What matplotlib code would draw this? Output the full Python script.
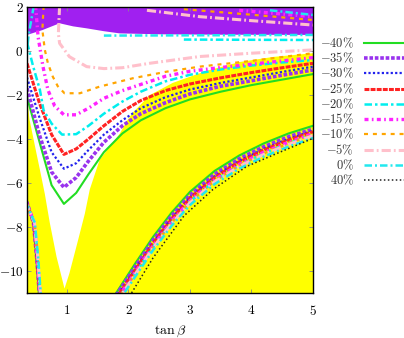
import matplotlib
matplotlib.use("Agg")
import matplotlib.pyplot as plt

plt.rcParams['mathtext.fontset'] = 'cm'
plt.rcParams['font.family'] = 'DejaVu Serif'

# ---- allowed regions ----
white_x = [0.35, 0.35, 0.39, 0.5, 0.56, 0.64, 0.72, 0.83, 0.96, 1.04, 1.18, 1.29,
           1.37, 1.53, 1.86, 1.97, 2.07, 2.35, 2.72, 3.27, 3.81, 4.35, 5.0, 5.0]
white_y = [2.0, -2.0, -3.1, -4.6, -5.4, -6.5, -7.8, -9.35, -10.8, -10.1, -8.6, -7.4,
           -6.3, -4.95, -3.75, -3.2, -2.8, -2.0, -1.45, -0.9, -0.5, -0.27, -0.1, 2.0]

purple_x = [0.35, 0.6, 0.88, 1.1, 1.32, 1.6, 1.86, 2.5, 3.5, 5.0]
purple_y = [0.73, 0.95, 1.26, 1.12, 1.03, 0.9, 0.8, 0.76, 0.74, 0.73]

# ---- upper branches ----
xv = [0.35, 0.55, 0.75, 0.95, 1.15, 1.35, 1.6, 1.9, 2.2, 2.6, 3.0, 3.5, 4.0, 4.5, 5.0]
m40_up = [-2.1, -4.1, -6.1, -6.95, -6.45, -5.6, -4.6, -3.75, -3.15, -2.6, -2.2, -1.85, -1.55, -1.3, -1.05]
m35_up = [-1.7, -3.8, -5.5, -6.2, -5.75, -5.0, -4.15, -3.4, -2.85, -2.35, -1.95, -1.6, -1.35, -1.1, -0.86]
m30_up = [-1.2, -3.0, -4.6, -5.35, -5.1, -4.5, -3.8, -3.15, -2.6, -2.1, -1.75, -1.45, -1.2, -0.95, -0.71]
m25_up = [-0.56, -2.35, -3.8, -4.7, -4.45, -4.0, -3.4, -2.75, -2.25, -1.8, -1.5, -1.22, -0.98, -0.76, -0.56]

m20_up_x = [0.35, 0.45, 0.56, 0.62, 0.75, 0.92, 1.15, 1.35, 1.6, 1.9, 2.2, 2.6, 3.0, 3.5, 4.0, 4.5, 5.0]
m20_up_y = [0.4, -0.7, -1.77, -2.7, -3.3, -3.8, -3.78, -3.4, -2.85, -2.3, -1.85, -1.38, -1.08, -0.84, -0.66, -0.52, -0.41]
m15_up_x = [0.49, 0.53, 0.61, 0.69, 0.8, 0.95, 1.15, 1.35, 1.6, 1.9, 2.2, 2.6, 3.0, 3.5, 4.0, 4.5, 5.0]
m15_up_y = [2.05, 0.65, -0.71, -1.77, -2.5, -2.9, -2.9, -2.6, -2.15, -1.8, -1.52, -1.15, -0.92, -0.75, -0.6, -0.45, -0.3]
m10_up_x = [0.62, 0.6, 0.64, 0.69, 0.77, 0.85, 0.96, 1.21, 1.53, 2.07, 2.62, 3.16, 4.0, 5.0]
m10_up_y = [2.05, 0.95, 0.05, -0.56, -1.17, -1.6, -1.92, -1.92, -1.62, -1.24, -0.94, -0.71, -0.45, -0.1]
m5_up_x = [0.88, 0.86, 0.88, 1.04, 1.32, 1.6, 1.9, 2.34, 3.16, 4.0, 5.0]
m5_up_y = [2.05, 0.8, 0.35, -0.26, -0.71, -0.8, -0.76, -0.56, -0.25, -0.1, 0.05]
p0_up_x = [0.46, 0.42, 0.38, 0.36]
p0_up_y = [2.05, 1.41, 0.8, 0.3]

# branches along / inside the purple band
p0_mid_x, p0_mid_y = [1.6, 5.0], [0.7, 0.73]
m20_mid_x, m20_mid_y = [2.9, 5.0], [0.52, 0.5]
m5_top_x, m5_top_y = [2.3, 3.16, 4.0, 5.0], [1.85, 1.56, 1.38, 1.18]
m10_top_x, m10_top_y = [2.9, 4.0, 5.0], [1.9, 1.65, 1.41]
m15_top_x, m15_top_y = [3.8, 5.0], [1.85, 1.56]
p0_top_x, p0_top_y = [4.3, 5.0], [1.85, 1.64]

# ---- lower right branches ----
xl = [1.8, 2.1, 2.4, 2.7, 3.0, 3.4, 3.8, 4.2, 4.6, 5.0]
m40_lo = [-11.0, -9.7, -8.45, -7.35, -6.4, -5.45, -4.75, -4.2, -3.75, -3.4]
m35_lo = [-11.1, -9.85, -8.6, -7.5, -6.55, -5.6, -4.9, -4.35, -3.9, -3.55]
m30_lo = [-11.2, -9.95, -8.7, -7.6, -6.65, -5.7, -5.0, -4.45, -4.0, -3.62]
m25_lo = [-11.25, -10.0, -8.75, -7.65, -6.7, -5.75, -5.05, -4.5, -4.05, -3.67]
m20_lo = [-11.4, -10.15, -8.9, -7.8, -6.85, -5.9, -5.2, -4.65, -4.2, -3.8]
m15_lo = [-11.35, -10.1, -8.85, -7.75, -6.8, -5.85, -5.15, -4.6, -4.15, -3.75]
m10_lo = [-11.4, -10.15, -8.9, -7.8, -6.85, -5.9, -5.2, -4.65, -4.2, -3.8]
m5_lo = [-11.45, -10.2, -8.95, -7.85, -6.9, -5.95, -5.25, -4.7, -4.25, -3.85]
p0_lo = [-11.55, -10.3, -9.05, -7.95, -7.0, -6.05, -5.35, -4.8, -4.35, -3.95]
p40_x = [2.05, 2.4, 2.9, 3.37, 3.92, 4.46, 5.0]
p40_y = [-11.0, -9.4, -7.5, -6.3, -5.25, -4.6, -3.97]

# ---- lower left branches ----
yll = [-6.85, -7.8, -9.35, -10.5, -11.1]
m40_ll = [0.35, 0.45, 0.50, 0.53, 0.545]
m35_ll = [0.345, 0.455, 0.507, 0.537, 0.552]
m30_ll = [0.34, 0.46, 0.51, 0.54, 0.555]
m25_ll = [0.335, 0.462, 0.513, 0.543, 0.558]
m20_ll = [0.33, 0.468, 0.52, 0.55, 0.565]
m15_ll = [0.333, 0.465, 0.517, 0.547, 0.562]
m10_ll = [0.33, 0.468, 0.52, 0.55, 0.565]
m5_ll = [0.325, 0.472, 0.524, 0.554, 0.569]
p0_ll = [0.32, 0.477, 0.53, 0.56, 0.575]

labels = ['$-40\\%$', '$-35\\%$', '$-30\\%$', '$-25\\%$', '$-20\\%$',
          '$-15\\%$', '$-10\\%$', '$-5\\%$', '$0\\%$', '$40\\%$']

styles = {
    'm40': dict(color='#22dd22', lw=1.5, ls='-'),
    'm35': dict(color='#9933ee', lw=2.6, ls=(0, (1.0, 0.5))),
    'm30': dict(color='#2222ee', lw=1.6, ls=(0, (1, 1))),
    'm25': dict(color='#ff2222', lw=2.2, ls=(0, (1.6, 0.4))),
    'm20': dict(color='#00eeee', lw=1.8, ls=(0, (3, 1.2, 1, 1.2))),
    'm15': dict(color='#ff22ff', lw=2.4, ls=(0, (1.2, 1, 0.5, 1))),
    'm10': dict(color='#ffa500', lw=1.6, ls=(0, (1.8, 2.2))),
    'm5': dict(color='#ffc0cb', lw=2.2, ls=(0, (3, 1, 0.6, 1))),
    'p0': dict(color='#22e8ee', lw=1.8, ls=(0, (3, 1.2, 0.8, 1.2))),
    'p40': dict(color='#222222', lw=1.1, ls=(0, (1, 1.6))),
}

fig = plt.figure(figsize=(4.04, 3.38), dpi=100)
ax = fig.add_axes([27 / 404, 45 / 338, 286 / 404, 286 / 338])
ax.set_facecolor('#ffff00')
ax.fill(white_x, white_y, color='white', lw=0, zorder=1)
ax.fill(purple_x + [5.0, 0.35], purple_y + [2.0, 2.0], color='#a020f0', lw=0, zorder=1.5)

series = [
    ('m40', [(xv, m40_up), (xl, m40_lo), (m40_ll, yll)]),
    ('m35', [(xv, m35_up), (xl, m35_lo), (m35_ll, yll)]),
    ('m30', [(xv, m30_up), (xl, m30_lo), (m30_ll, yll)]),
    ('m25', [(xv, m25_up), (xl, m25_lo), (m25_ll, yll)]),
    ('m20', [(m20_up_x, m20_up_y), (m20_mid_x, m20_mid_y), (xl, m20_lo), (m20_ll, yll)]),
    ('m15', [(m15_up_x, m15_up_y), (m15_top_x, m15_top_y), (xl, m15_lo), (m15_ll, yll)]),
    ('m10', [(m10_up_x, m10_up_y), (m10_top_x, m10_top_y), (xl, m10_lo), (m10_ll, yll)]),
    ('m5', [(m5_up_x, m5_up_y), (m5_top_x, m5_top_y), (xl, m5_lo), (m5_ll, yll)]),
    ('p0', [(p0_up_x, p0_up_y), (p0_mid_x, p0_mid_y), (p0_top_x, p0_top_y), (xl, p0_lo), (p0_ll, yll)]),
    ('p40', [(p40_x, p40_y)]),
]

handles = []
for (key, parts), lab in zip(series, labels):
    for i, (px, py) in enumerate(parts):
        ln, = ax.plot(px, py, zorder=3, **styles[key])
        if i == 0:
            ln.set_label(lab)
            handles.append(ln)

ax.set_xlim(0.35, 5)
ax.set_ylim(-11, 2)
ax.set_xticks([1, 2, 3, 4, 5])
ax.set_xticklabels(['$%d$' % v for v in [1, 2, 3, 4, 5]])
ax.set_yticks([2, 0, -2, -4, -6, -8, -10])
ax.set_yticklabels(['$%d$' % v for v in [2, 0, -2, -4, -6, -8, -10]])
ax.tick_params(direction='in', length=3, width=0.6, labelsize=9.5,
               top=True, right=True, colors='#888888', labelcolor='black')
ax.tick_params(axis='x', pad=8)
ax.tick_params(axis='y', pad=2.5)
ax.set_xlabel(r'$\tan\beta$', fontsize=10, labelpad=4)
for s in ax.spines.values():
    s.set_linewidth(1.0)
    s.set_zorder(5)

ax.legend(handles=handles, loc='upper right', bbox_to_anchor=(405 / 404, 302 / 338),
          bbox_transform=fig.transFigure, frameon=False, markerfirst=False,
          fontsize=9, handlelength=3.3, handletextpad=0.8, labelspacing=0.07,
          borderaxespad=0, borderpad=0)
for t in ax.get_legend().get_texts():
    t.set_color('#333333')

fig.savefig('out.png', dpi=100)
